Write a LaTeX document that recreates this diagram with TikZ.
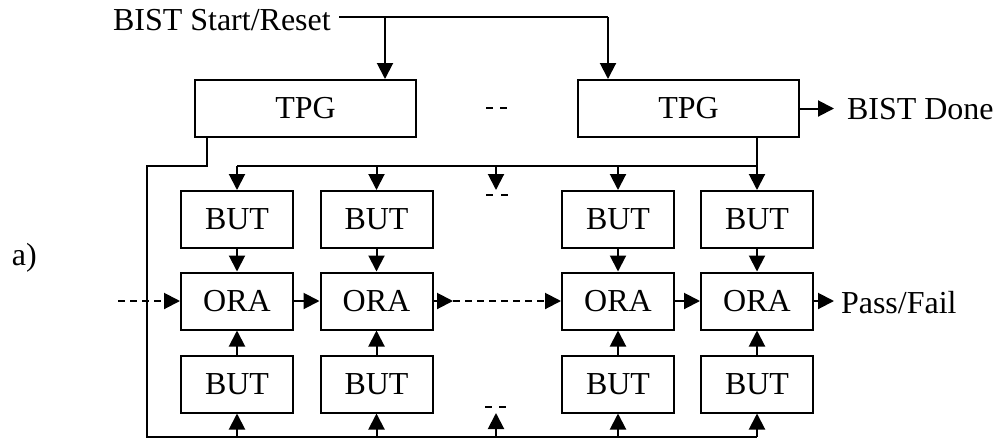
\documentclass[tikz,border=0pt]{standalone}
\usepackage{fontspec}
\setmainfont{Liberation Serif}
\usetikzlibrary{arrows.meta}
\begin{document}
\begin{tikzpicture}[x=1pt,y=-1pt,
  line width=2pt,
  font=\fontsize{32}{38}\selectfont,
  box/.style={draw,line width=2pt,minimum width=112pt,minimum height=57pt,inner sep=0pt},
  tpgbox/.style={box,minimum width=221pt},
  arr/.style={-{Triangle[length=16pt,width=16pt]}},
  dsh/.style={dash pattern=on 7pt off 5pt}]
\useasboundingbox (0,0) rectangle (998,440);
% TPGs
\node[tpgbox] (tpg1) at (305.5,108.5) {TPG};
\node[tpgbox] (tpg2) at (688.5,108.5) {TPG};
% BUT / ORA grid
\foreach \n/\x in {1/237,2/376.5,3/618,4/757}{
  \node[box] (bt\n) at (\x,219.5) {BUT};
  \node[box] (ora\n) at (\x,301) {ORA};
  \node[box] (bb\n) at (\x,384) {BUT};
  \draw[arr] (bt\n) -- (ora\n);
  \draw[arr] (bb\n) -- (ora\n);
}
% labels
\node[anchor=base west,inner sep=0pt] (srt) at (112,30) {BIST Start/Reset};
\node[anchor=base west,inner sep=0pt] (done) at (846,119) {BIST Done};
\node[anchor=base west,inner sep=0pt] (pf) at (840,313) {Pass/Fail};
\node[anchor=base west,inner sep=0pt] (lbla) at (11,265) {a)};
% start/reset distribution
\coordinate (s0) at (339,17);
\coordinate (s1) at (385,17);
\coordinate (s2) at (608,17);
\draw (s0) -- (s2);
\draw[arr] (s1) -- (s1 |- tpg1.north);
\draw[arr] (s2) -- (s2 |- tpg2.north);
% BIST Done
\coordinate (d1) at (834,108.5);
\draw[arr] (tpg2.east) -- (d1);
% top bus
\coordinate (tb) at (757,166);
\coordinate (tbl) at (237,166);
\draw (tpg2.south -| tb) -- (tb) -- (tbl);
\foreach \n in {1,2,3,4}{
  \draw[arr] (bt\n.north |- tb) -- (bt\n.north);
}
\coordinate (tm) at (496,166);
\draw[arr] (tm) -- (496,190);
% left feedback path and bottom bus
\coordinate (f0) at (207,166);
\coordinate (f1) at (147,166);
\coordinate (f2) at (147,437);
\coordinate (f3) at (757,437);
\draw (tpg1.south -| f0) -- (f0) -- (f1) -- (f2) -- (f3);
\foreach \n in {1,2,3,4}{
  \draw[arr] (bb\n.south |- f3) -- (bb\n.south);
}
\coordinate (bm) at (496,437);
\draw[arr] (bm) -- (496,413);
% ellipsis dashes
\draw (486,108) -- (493,108) (500,108) -- (507,108);
\draw (486,195) -- (493,195) (501,195) -- (508,195);
\draw (485,407) -- (492,407) (499,407) -- (506,407);
% ORA chain
\coordinate (in0) at (118,301);
\draw[dsh,arr] (in0) -- (ora1.west);
\draw[arr] (ora1) -- (ora2);
\coordinate (mid) at (453,301);
\draw[arr] (ora2.east) -- (mid);
\draw[dsh,arr] (mid) -- (ora3.west);
\draw[arr] (ora3) -- (ora4);
\coordinate (p1) at (834,301);
\draw[arr] (ora4.east) -- (p1);
\end{tikzpicture}
\end{document}
